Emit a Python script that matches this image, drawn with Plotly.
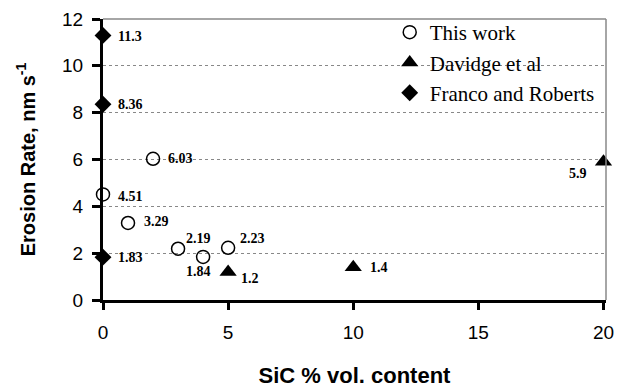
import plotly.graph_objects as go

# Data
this_x = [0, 1, 2, 3, 4, 5]
this_y = [4.51, 3.29, 6.03, 2.19, 1.84, 2.23]
this_lbl = ["4.51", "3.29", "6.03", "2.19", "1.84", "2.23"]

dav_x = [5, 10, 20]
dav_y = [1.2, 1.4, 5.9]
dav_lbl = ["1.2", "1.4", "5.9"]

fr_x = [0, 0, 0]
fr_y = [11.3, 8.36, 1.83]
fr_lbl = ["11.3", "8.36", "1.83"]

x_ticks = [0, 5, 10, 15, 20]
y_ticks = [0, 2, 4, 6, 8, 10, 12]

# label placement style: (xanchor, xshift, yshift)
this_style = [("left", 13, -2), ("left", 14, 1), ("left", 13, 0), ("left", 6, 10), ("right", 10, -15), ("left", 10, 9)]
dav_style = [("left", 11, -7), ("left", 15, 0), ("right", -15, -12)]
fr_style = [("left", 13, -1), ("left", 13, 0), ("left", 13, 0)]

fig = go.Figure()
fig.add_trace(go.Scatter(
    x=this_x, y=this_y, mode="markers", name="This work",
    marker=dict(symbol="circle-open", size=13, color="black", line=dict(width=1.5, color="black")),
    cliponaxis=False,
))
fig.add_trace(go.Scatter(
    x=dav_x, y=dav_y, mode="markers", name="Davidge et al",
    marker=dict(symbol="triangle-up", size=15, color="black"),
    cliponaxis=False,
))
fig.add_trace(go.Scatter(
    x=fr_x, y=fr_y, mode="markers", name="Franco and Roberts",
    marker=dict(symbol="diamond", size=13, color="black"),
    cliponaxis=False,
))

annotations = []
for xs, ys, ls, st in [(this_x, this_y, this_lbl, this_style),
                       (dav_x, dav_y, dav_lbl, dav_style),
                       (fr_x, fr_y, fr_lbl, fr_style)]:
    for x, y, l, (xa, dx, dy) in zip(xs, ys, ls, st):
        annotations.append(dict(x=x, y=y, xref="x", yref="y", text=f"<b>{l}</b>",
                                showarrow=False, xanchor=xa, yanchor="middle",
                                xshift=dx, yshift=dy,
                                font=dict(family="Liberation Serif", size=14, color="black")))

fig.update_layout(
    width=617, height=388,
    margin=dict(l=103, r=11, t=19, b=88, autoexpand=False),
    plot_bgcolor="white", paper_bgcolor="white",
    showlegend=True,
    legend=dict(x=0.57, y=1.025, xanchor="left", yanchor="top",
                font=dict(family="Liberation Serif", size=21, color="black"),
                bgcolor="rgba(0,0,0,0)", itemwidth=30, tracegroupgap=0),
    annotations=annotations,
    xaxis=dict(range=[0, 20.1], tickvals=x_ticks, showgrid=False, zeroline=False,
               showline=True, linewidth=3, linecolor="black", automargin=False,
               ticks="outside", ticklen=7, tickwidth=3, tickcolor="black",
               ticklabelstandoff=6,
               tickfont=dict(family="Liberation Sans", size=19, color="black"),
               title=dict(text="<b>SiC % vol. content</b>", font=dict(family="Liberation Sans", size=22, color="black"), standoff=28)),
    yaxis=dict(range=[0, 12], tickvals=y_ticks, showgrid=True, gridcolor="#888888",
               griddash="3px,3px", gridwidth=1, zeroline=False, automargin=False,
               showline=True, linewidth=3, linecolor="black",
               ticks="outside", ticklen=8, tickwidth=3, tickcolor="black",
               ticklabelstandoff=5,
               tickfont=dict(family="Liberation Sans", size=19, color="black"),
               title=dict(text="<b>Erosion Rate, nm s<sup>-1</sup></b>", font=dict(family="Liberation Sans", size=20, color="black"), standoff=22)),
    shapes=[dict(type="line", xref="paper", yref="paper", x0=1, x1=1, y0=0, y1=1,
                 line=dict(color="#888888", width=1.5)),
            dict(type="line", xref="paper", yref="paper", x0=0, x1=1, y0=1, y1=1,
                 line=dict(color="#888888", width=1.5))],
)

fig.write_html("out.html", config={"displayModeBar": False},
               post_script="document.body.style.margin='0px';document.body.style.overflow='hidden';")
